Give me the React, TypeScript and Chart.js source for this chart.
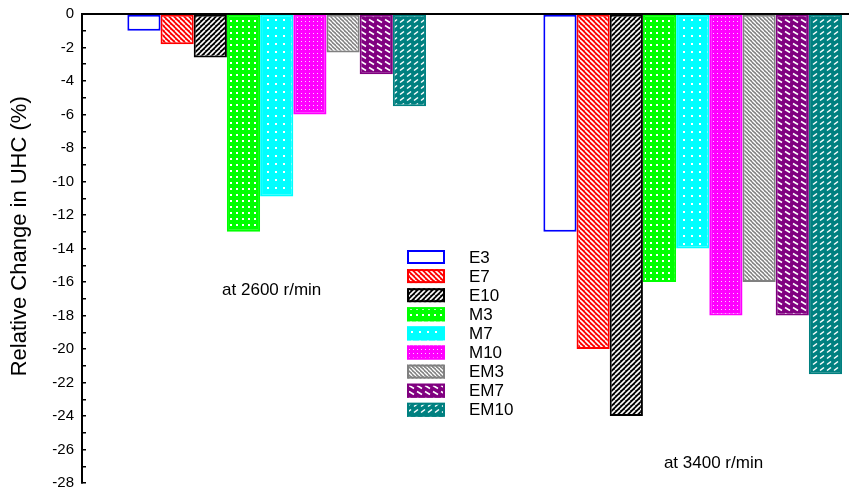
import React, { useEffect, useRef } from 'react';
import { Chart, registerables } from 'chart.js';

Chart.register(...registerables);

// Fuel blends and their relative change in unburned hydrocarbons (%)
const series = ['E3', 'E7', 'E10', 'M3', 'M7', 'M10', 'EM3', 'EM7', 'EM10'];
const speedLabels = ['at 2600 r/min', 'at 3400 r/min'];
const uhc2600 = [-1, -1.8, -2.6, -13, -10.9, -6, -2.3, -3.6, -5.5];
const uhc3400 = [-13, -20, -24, -16, -14, -18, -16, -18, -21.5];
const seriesColors = ['#0000ff', '#ff0000', '#000000', '#00ff00', '#00ffff', '#ff00ff', '#808080', '#800080', '#008080'];
const seriesFills = ['open', 'back', 'fwd', 'dots', 'sparse', 'tiny', 'fine', 'dashBack', 'dashFwd'];
const yMin = -28;
const yMax = 0;

const FONT = 'Arial, "Liberation Sans", sans-serif';

function makeFill(kind: string, color: string): string | CanvasPattern {
  if (kind === 'open') return '#ffffff';
  const sizes: Record<string, [number, number]> = {
    back: [5, 5], fwd: [5, 5], fine: [4, 4], dots: [6, 6], sparse: [8, 8],
    tiny: [4, 4], dashBack: [8, 6], dashFwd: [7, 6],
  };
  const [w, h] = sizes[kind];
  const c = document.createElement('canvas');
  c.width = w;
  c.height = h;
  const g = c.getContext('2d') as CanvasRenderingContext2D;
  g.fillStyle = color;
  g.fillRect(0, 0, w, h);
  g.strokeStyle = '#ffffff';
  g.fillStyle = '#ffffff';
  const line = (x1: number, y1: number, x2: number, y2: number, lw: number) => {
    g.lineWidth = lw;
    g.beginPath();
    g.moveTo(x1, y1);
    g.lineTo(x2, y2);
    g.stroke();
  };
  switch (kind) {
    case 'back':
      for (const o of [-w, 0, w]) line(o, 0, o + w, h, 1.6);
      break;
    case 'fwd':
      for (const o of [-w, 0, w]) line(o, h, o + w, 0, 1.6);
      break;
    case 'fine':
      for (const o of [-w, 0, w]) line(o, 0, o + w, h, 1.3);
      break;
    case 'dots':
      g.fillRect(2, 2, 2, 2);
      break;
    case 'sparse':
      g.fillRect(3, 3, 2, 2);
      break;
    case 'tiny':
      g.globalAlpha = 0.8;
      g.fillRect(1, 1, 1, 1);
      break;
    case 'dashBack':
      line(1, 1.5, 6, 4.5, 1.5);
      break;
    case 'dashFwd':
      line(1, 4.5, 5, 1.5, 1.5);
      break;
  }
  return g.createPattern(c, 'repeat') as CanvasPattern;
}

// Legend box list and speed captions drawn inside the plot area
const overlayPlugin = {
  id: 'overlay',
  afterDatasetsDraw(chart: any) {
    const { ctx, scales } = chart;
    const x = scales.x;
    const y = scales.y;
    ctx.save();
    const boxL = 407;
    const boxW = 38;
    const boxH = 14;
    const top0 = 257;
    const rowH = 19.1;
    const textX = 469;
    ctx.font = `17px ${FONT}`;
    ctx.textBaseline = 'middle';
    chart.data.datasets.forEach((ds: any, i: number) => {
      const cy = top0 + i * rowH;
      ctx.fillStyle = ds.backgroundColor;
      ctx.fillRect(boxL, cy - boxH / 2, boxW, boxH);
      ctx.strokeStyle = ds.borderColor;
      ctx.lineWidth = 2;
      ctx.strokeRect(boxL + 1, cy - boxH / 2 + 1, boxW - 2, boxH - 2);
      ctx.fillStyle = '#000000';
      ctx.textAlign = 'left';
      ctx.fillText(ds.label, textX, cy + 1);
    });
    ctx.textAlign = 'center';
    ctx.fillStyle = '#000000';
    ctx.fillText(speedLabels[0], x.getPixelForValue(-0.012), y.getPixelForValue(-16.5));
    ctx.fillText(speedLabels[1], x.getPixelForValue(1.05), y.getPixelForValue(-26.8));
    ctx.restore();
  },
};

export default function App() {
  const canvasRef = useRef<HTMLCanvasElement | null>(null);

  useEffect(() => {
    const canvas = canvasRef.current;
    if (!canvas) return;
    const chart = new Chart(canvas, {
      type: 'bar',
      data: {
        datasets: series.map((name, i) => ({
          label: name,
          data: [
            { x: 0, y: uhc2600[i] },
            { x: 1, y: uhc3400[i] },
          ],
          backgroundColor: makeFill(seriesFills[i], seriesColors[i]) as any,
          borderColor: seriesColors[i],
          borderWidth: 2,
          borderSkipped: false,
          categoryPercentage: 0.718,
          barPercentage: 1,
        })),
      },
      options: {
        animation: false,
        responsive: true,
        maintainAspectRatio: false,
        layout: { padding: { left: 0, top: 14, right: 2, bottom: 11 } },
        plugins: {
          legend: { display: false },
          tooltip: { enabled: false },
          title: { display: false },
        },
        scales: {
          x: {
            type: 'linear',
            position: 'top',
            offset: false,
            min: -0.468,
            max: 1.3733,
            afterBuildTicks: (s: any) => {
              s.ticks = [{ value: 0 }, { value: 1 }];
            },
            afterFit: (s: any) => {
              s.height = 0;
              s.paddingLeft = 0;
              s.paddingRight = 0;
            },
            grid: { display: false, drawTicks: false, offset: false },
            ticks: { display: false },
            border: { display: true, color: '#000000', width: 2 },
          },
          y: {
            type: 'linear',
            min: yMin,
            max: yMax,
            afterFit: (s: any) => {
              s.width = 82;
              s.paddingTop = 0;
              s.paddingBottom = 0;
            },
            ticks: {
              stepSize: 1,
              autoSkip: false,
              color: '#000000',
              font: { family: FONT, size: 15 },
              padding: 12,
              callback: (v: any) => (Number(v) % 2 === 0 ? String(v) : ''),
            },
            grid: {
              display: true,
              drawOnChartArea: false,
              drawTicks: true,
              tickLength: -4,
              color: '#000000',
              lineWidth: 1.5,
            },
            border: { display: true, color: '#000000', width: 2 },
            title: {
              display: true,
              text: '    Relative Change in UHC (%)',
              color: '#000000',
              font: { family: FONT, size: 22 },
              padding: { top: 7, bottom: 0 },
            },
          },
        },
      } as any,
      plugins: [overlayPlugin],
    });
    return () => chart.destroy();
  }, []);

  return (
    <div style={{ position: 'fixed', left: 0, top: 0, width: 850, height: 494, background: '#ffffff' }}>
      <canvas ref={canvasRef} />
    </div>
  );
}
